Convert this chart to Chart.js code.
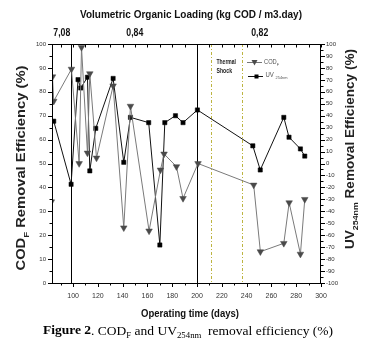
<!DOCTYPE html>
<html><head><meta charset="utf-8">
<script src="https://cdn.jsdelivr.net/npm/chart.js@4.4.0/dist/chart.umd.min.js"></script>
<style>
html,body{margin:0;padding:0;background:#fff;}
#c{display:block;}
</style></head><body>
<canvas id="c" width="365" height="355"></canvas>
<script>
// ---- data ----
const codDays   = [82.5, 83.4, 84.4, 98.7, 104.9, 106.8, 111.6, 113.5, 118.9, 132.3, 140.9, 146.3, 161.3, 170.5, 173.4, 183.4, 188.7, 200.8, 245.7, 251.1, 270, 274.3, 283.4, 286.9];
const codValues = [34, 86.3, 76.1, 89.5, 50, 98.6, 54.4, 87.6, 52.3, 82.5, 23.1, 74, 21.8, 47.3, 54, 48.7, 35.4, 50, 41, 13.1, 16.6, 33.6, 12.1, 35];
const uvDays    = [84.4, 98.4, 104, 106.2, 111.6, 113.5, 118.3, 132.3, 140.9, 146.3, 161, 170, 174, 182.6, 188.7, 200.3, 245, 251, 270, 274.2, 283.4, 286.9];
const uvValues  = [35.4, -17.4, 70.2, 63.2, 72.2, -6.2, 29.4, 71.2, 1, 38.6, 34.2, -68.2, 34.2, 40, 34.2, 44.8, 14.8, -5.4, 38.6, 22, 12.2, 6.2];
const xTickLabels  = [100, 120, 140, 160, 180, 200, 220, 240, 260, 280, 300];
const yLeftTicks   = [0, 10, 20, 30, 40, 50, 60, 70, 80, 90, 100];
const yRightTicks  = [-100, -90, -80, -70, -60, -50, -40, -30, -20, -10, 0, 10, 20, 30, 40, 50, 60, 70, 80, 90, 100];
const phaseLines   = [98.7, 200];
const shockLines   = [211, 236.3];
const loadingLabels = ['7,08', '0,84', '0,82'];
const loadingDays   = [90.9, 149.8, 250.6];

const H = 355;
const SANS = "'Liberation Sans Narrow','Liberation Sans',Arial,sans-serif";
const SERIF = "'Liberation Serif','Times New Roman',serif";

function rich(ctx, parts, cx, cy, rot, size, weight, color, targetW, align, family) {
  family = family || SANS;
  ctx.save();
  ctx.translate(cx, cy);
  ctx.rotate(rot);
  ctx.fillStyle = color;
  ctx.textBaseline = 'middle';
  ctx.textAlign = 'left';
  const fontOf = p => (p.w || weight) + ' ' + (p.sub ? size * 0.65 : size) + 'px ' + family;
  let total = 0;
  const ws = parts.map(p => {
    ctx.font = fontOf(p);
    const w = ctx.measureText(p.t).width;
    total += w; return w;
  });
  const sx = targetW ? targetW / total : 1;
  ctx.scale(sx, 1);
  let x = align === 'left' ? 0 : -total / 2;
  parts.forEach((p, i) => {
    ctx.font = fontOf(p);
    ctx.fillText(p.t, x, p.sub ? size * 0.35 : 0);
    x += ws[i];
  });
  ctx.restore();
}

const decor = {
  id: 'decor',
  beforeDatasetsDraw(chart) {
    const {ctx, chartArea: a, scales: {x}} = chart;
    ctx.save();
    ctx.beginPath(); ctx.rect(a.left, a.top, a.right - a.left, a.bottom - a.top); ctx.clip();
    ctx.lineWidth = 1;
    ctx.strokeStyle = '#000';
    phaseLines.forEach(d => {
      const px = Math.round(x.getPixelForValue(d)) + 0.5;
      ctx.beginPath(); ctx.moveTo(px, a.top); ctx.lineTo(px, a.bottom); ctx.stroke();
    });
    ctx.strokeStyle = '#bdb440';
    ctx.setLineDash([3, 2, 1, 2]);
    shockLines.forEach(d => {
      const px = Math.round(x.getPixelForValue(d)) + 0.5;
      ctx.beginPath(); ctx.moveTo(px, a.top); ctx.lineTo(px, a.bottom); ctx.stroke();
    });
    ctx.restore();
  },
  afterDraw(chart) {
    const {ctx, chartArea: a, scales: {x, y, y2}} = chart;
    ctx.save();
    ctx.strokeStyle = '#000'; ctx.lineWidth = 1;
    ctx.strokeRect(a.left + 0.5, a.top + 0.5, a.right - a.left - 1, a.bottom - a.top);
    ctx.beginPath();
    for (let v = 0; v <= 100; v += 5) {
      const py = Math.round(y.getPixelForValue(v)) + 0.5;
      const L = v % 10 === 0 ? 4 : 2.5;
      ctx.moveTo(a.left, py); ctx.lineTo(a.left - L, py);
    }
    for (let v = -100; v <= 100; v += 5) {
      const py = Math.round(y2.getPixelForValue(v)) + 0.5;
      const L = v % 10 === 0 ? 4 : 2.5;
      ctx.moveTo(a.right, py); ctx.lineTo(a.right + L, py);
    }
    for (let d = 90; d <= 300; d += 10) {
      const px = Math.round(x.getPixelForValue(d)) + 0.5;
      const L = d % 20 === 0 ? 4 : 2.5;
      ctx.moveTo(px, a.bottom); ctx.lineTo(px, a.bottom + L);
      ctx.moveTo(px, a.top); ctx.lineTo(px, a.top + 3.5);
    }
    ctx.stroke();

    // top axis: loading labels and title
    loadingLabels.forEach((t, i) => {
      rich(ctx, [{t}], x.getPixelForValue(loadingDays[i]), 33, 0, 10, 'bold', '#111', 17);
    });
    rich(ctx, [{t: 'Volumetric Organic Loading (kg COD / m3.day)'}], 191, 15, 0, 11.5, 'bold', '#111', 222);

    // x-axis title
    rich(ctx, [{t: 'Operating time (days)'}], 190, 314, 0, 10, 'bold', '#111', 98);

    // axis titles
    rich(ctx, [{t: 'COD'}, {t: 'F', sub: true}, {t: ' Removal Efficiency (%)'}], 22, 168, -Math.PI / 2, 12.5, 'bold', '#222', 205);
    rich(ctx, [{t: 'UV'}, {t: '254nm', sub: true}, {t: ' Removal Efficiency (%)'}], 351, 149, -Math.PI / 2, 12.5, 'bold', '#222', 200);

    // thermal shock note
    rich(ctx, [{t: 'Thermal'}], 216.5, 62, 0, 7, 'bold', '#222', 19.5, 'left');
    rich(ctx, [{t: 'Shock'}], 216.5, 71.5, 0, 7, 'bold', '#222', 15.5, 'left');

    // legend
    ctx.strokeStyle = '#777'; ctx.lineWidth = 1;
    ctx.beginPath(); ctx.moveTo(247, 62.5); ctx.lineTo(262, 62.5); ctx.stroke();
    ctx.fillStyle = '#4a4a4a';
    ctx.beginPath(); ctx.moveTo(251.5, 60); ctx.lineTo(257.5, 60); ctx.lineTo(254.5, 65.5); ctx.closePath(); ctx.fill();
    rich(ctx, [{t: 'COD'}, {t: 'F', sub: true}], 264, 62.5, 0, 6.5, 'normal', '#555', 15, 'left');
    ctx.strokeStyle = '#111';
    ctx.beginPath(); ctx.moveTo(248, 76.5); ctx.lineTo(263, 76.5); ctx.stroke();
    ctx.fillStyle = '#000';
    ctx.fillRect(254.5, 74.5, 4, 4);
    rich(ctx, [{t: 'UV '}, {t: '254nm', sub: true}], 265.5, 75.5, 0, 6.5, 'normal', '#555', 22, 'left');

    // figure caption
    rich(ctx, [
      {t: 'Figure 2', w: 'bold'}, {t: '. COD'}, {t: 'F', sub: true}, {t: ' and UV'}, {t: '254nm', sub: true},
      {t: '  removal efficiency (%)'}
    ], 188, 331, 0, 13.5, 'normal', '#000', 290, 'center', SERIF);
    ctx.restore();
  }
};

const tickFont = (s) => ({family: SANS, size: s});

new Chart(document.getElementById('c'), {
  type: 'line',
  data: {
    datasets: [
      {
        label: 'COD_F',
        data: codDays.map((d, i) => ({x: d, y: codValues[i]})),
        yAxisID: 'y',
        clip: {left: 0, top: 6, right: 6, bottom: 6},
        borderColor: '#7a7a7a', borderWidth: 1,
        pointStyle: 'triangle', pointRotation: 180, pointRadius: 3.8,
        pointBackgroundColor: '#4a4a4a', pointBorderColor: '#4a4a4a', pointBorderWidth: 0.5,
        tension: 0, fill: false
      },
      {
        label: 'UV254nm',
        data: uvDays.map((d, i) => ({x: d, y: uvValues[i]})),
        yAxisID: 'y2',
        clip: {left: 0, top: 6, right: 6, bottom: 6},
        borderColor: '#111', borderWidth: 1,
        pointStyle: 'rect', pointRadius: 3,
        pointBackgroundColor: '#000', pointBorderColor: '#000', pointBorderWidth: 0.5,
        tension: 0, fill: false
      }
    ]
  },
  options: {
    responsive: false, animation: false,
    layout: {padding: {top: 44, left: 0, right: 0, bottom: 0}},
    plugins: {legend: {display: false}, tooltip: {enabled: false}},
    scales: {
      x: {
        type: 'linear', position: 'bottom', min: 83, max: 300,
        afterBuildTicks: s => { s.ticks = xTickLabels.map(v => ({value: v})); },
        afterFit: s => { s.height = H - 283; },
        grid: {display: false, drawTicks: false}, border: {display: false},
        ticks: {font: tickFont(7), color: '#333', padding: 9, maxRotation: 0, autoSkip: false}
      },
      y: {
        type: 'linear', position: 'left', min: 0, max: 100,
        afterBuildTicks: s => { s.ticks = yLeftTicks.map(v => ({value: v})); },
        afterFit: s => { s.width = 52; },
        grid: {display: false, drawTicks: false}, border: {display: false},
        ticks: {font: tickFont(6), color: '#333', padding: 6, autoSkip: false}
      },
      y2: {
        type: 'linear', position: 'right', min: -100, max: 100,
        afterBuildTicks: s => { s.ticks = yRightTicks.map(v => ({value: v})); },
        afterFit: s => { s.width = 44; },
        grid: {display: false, drawTicks: false}, border: {display: false},
        ticks: {font: tickFont(6), color: '#333', padding: 5, autoSkip: false}
      }
    }
  },
  plugins: [decor]
});
</script>
</body></html>
